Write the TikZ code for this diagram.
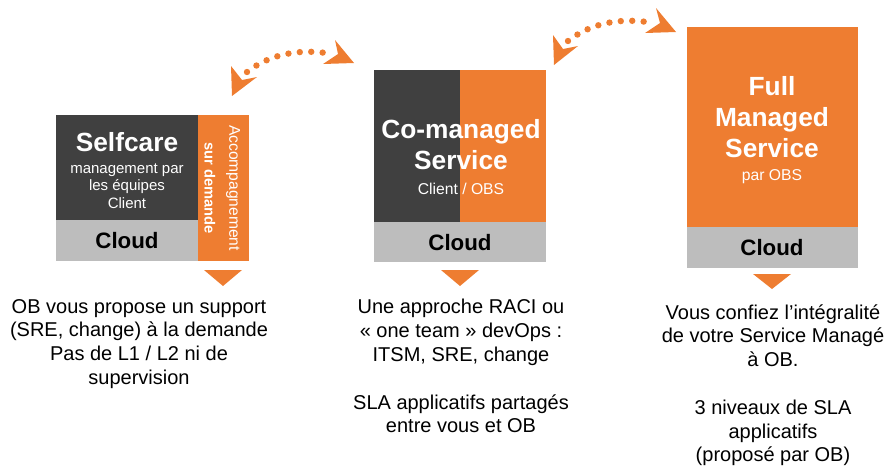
\documentclass[tikz,border=0pt]{standalone}
\usepackage{fontspec}
\setmainfont{Liberation Sans}
\definecolor{obor}{HTML}{EE7D31}
\definecolor{obdk}{HTML}{404040}
\definecolor{obgr}{HTML}{BDBDBD}
\tikzset{
  x=1pt,y=-1pt,
  dk/.style={fill=obdk,draw=none},
  orb/.style={fill=obor,draw=none},
  grb/.style={fill=obgr,draw=none},
  tri/.style={fill=obor,draw=none},
  dots/.style={draw=obor,line width=6.4pt,line cap=round,dash pattern=on 0pt off 11.45pt},
  ttl/.style={text=white,font=\fontsize{26.3}{31}\selectfont\bfseries,align=center,inner sep=0pt},
  sub/.style={text=white,font=\fontsize{15}{17.5}\selectfont,align=center,inner sep=0pt},
  subb/.style={text=white,font=\fontsize{15.7}{17.5}\selectfont,align=center,inner sep=0pt},
  cld/.style={text=black,font=\fontsize{22.3}{24}\selectfont\bfseries,inner sep=0pt},
  body/.style={text=black,font=\fontsize{20}{23.8}\selectfont,align=center,inner sep=0pt,anchor=north},
}
\begin{document}
\begin{tikzpicture}
\useasboundingbox (0,0) rectangle (887,466);
% arrows
\coordinate (a1s) at (247,72);
\coordinate (a1e) at (332,54);
\draw[dots] (a1s) .. controls (270,54) and (300,48) .. (a1e);
\fill[tri] (232,96) -- (231,66) -- (242,80) -- (257,77) -- cycle;
\fill[tri] (354,63) -- (335,40) -- (338,54) -- (323,64) -- cycle;
\coordinate (a2s) at (568,41);
\coordinate (a2e) at (653,23);
\draw[dots] (a2s) .. controls (591,23) and (621,17) .. (a2e);
\fill[tri] (554,65) -- (553,35) -- (563,49) -- (578,46) -- cycle;
\fill[tri] (676,32) -- (656,8) -- (660,23) -- (645,33) -- cycle;
% box 1
\fill[dk] (56,115) rectangle (198,220);
\fill[grb] (56,220) rectangle (198,261);
\fill[orb] (198,115) rectangle (249,261);
\node[ttl] (t1) at (127,142) {Selfcare};
\node[sub,anchor=north] (s1) at (127,163.5) {management par\\les équipes\\Client};
\node[cld] (c1) at (127,240.5) {Cloud};
\node[text=white,font=\fontsize{15.6}{15}\selectfont,rotate=-90,inner sep=0pt] (v1) at (233,188) {Accompagnement};
\node[text=white,font=\fontsize{14.7}{15}\selectfont\bfseries,rotate=-90,inner sep=0pt] (v2) at (210,188) {sur demande};
\fill[tri] (204,270) -- (242,270) -- (223,286) -- cycle;
% box 2
\fill[dk] (374,70) rectangle (460,222);
\fill[orb] (460,70) rectangle (546,222);
\fill[grb] (374,222) rectangle (546,262);
\node[ttl,anchor=north] (t2) at (461,119.5) {Co-managed\\Service};
\node[subb] (s2) at (461,189) {Client / OBS};
\node[cld] (c2) at (460,242.5) {Cloud};
\fill[tri] (441,270) -- (479,270) -- (460,286) -- cycle;
% box 3
\fill[orb] (687,27) rectangle (858,227);
\fill[grb] (687,227) rectangle (858,268);
\node[ttl,anchor=north] (t3) at (772,76) {Full\\Managed\\Service};
\node[subb] (s3) at (772,177) {par OBS};
\node[cld] (c3) at (772,247.5) {Cloud};
\fill[tri] (753,274) -- (791,274) -- (772,289) -- cycle;
% bodies
\node[body] (b1) at (139,298.9) {OB vous propose un support\\(SRE, change) à la demande\\Pas de L1 / L2 ni de\\supervision};
\node[body] (b2) at (461,299.2) {Une approche RACI ou\\« one team » devOps :\\ITSM, SRE, change\\[23.8pt]SLA applicatifs partagés\\entre vous et OB};
\node[body] (b3) at (773,304.1) {Vous confiez l’intégralité\\de votre Service Managé\\à OB.\\[23.8pt]3 niveaux de SLA\\applicatifs\\(proposé par OB)};
\end{tikzpicture}
\end{document}
